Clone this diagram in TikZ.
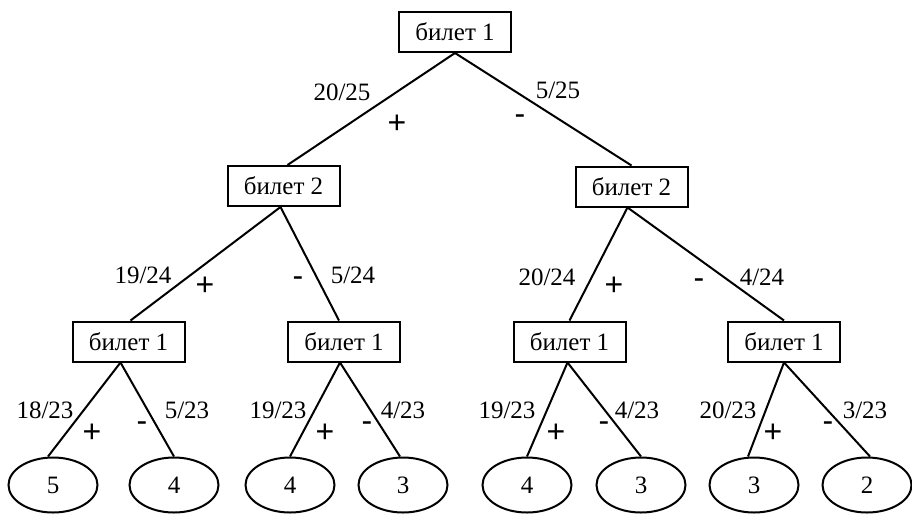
\documentclass[tikz,border=0pt]{standalone}
\usepackage{fontspec}
\setmainfont{Liberation Serif}
\newfontfamily\signfont{Liberation Sans}
\usetikzlibrary{shapes.geometric}
\begin{document}
\begin{tikzpicture}[x=1pt,y=-1pt,
  every node/.style={font=\fontsize{25}{28}\selectfont},
  ticket/.style={draw,line width=2pt,minimum width=112pt,minimum height=40pt,inner sep=0pt},
  leaf/.style={draw,ellipse,line width=2pt,minimum width=89pt,minimum height=55pt,inner sep=0pt},
  edge/.style={line width=2pt},
  prob/.style={inner sep=0pt},
  sign/.style={inner sep=0pt,font=\signfont\fontsize{32}{34}\selectfont}]
\useasboundingbox (0,0) rectangle (912,515);
% boxes
\node[ticket] (r) at (455,32) {билет 1};
\node[ticket] (a) at (283.5,186) {билет 2};
\node[ticket] (b) at (631.5,186.5) {билет 2};
\node[ticket] (a1) at (128.5,341.5) {билет 1};
\node[ticket] (a2) at (344,341.5) {билет 1};
\node[ticket] (b1) at (569.5,341.5) {билет 1};
\node[ticket] (b2) at (784,341.5) {билет 1};
% leaves
\node[leaf] (l1) at (53,485) {5};
\node[leaf] (l2) at (174,485) {4};
\node[leaf] (l3) at (290,485) {4};
\node[leaf] (l4) at (403,485) {3};
\node[leaf] (l5) at (527,485) {4};
\node[leaf] (l6) at (641,485) {3};
\node[leaf] (l7) at (754,485) {3};
\node[leaf] (l8) at (867,485) {2};
% edges
\draw[edge] (r.south) -- ([xshift=4pt]a.north);
\draw[edge] (r.south) -- (b.north);
\draw[edge] ([xshift=-3pt]a.south) -- ([xshift=2pt]a1.north);
\draw[edge] ([xshift=-3pt]a.south) -- ([xshift=-5pt]a2.north);
\draw[edge] ([xshift=-4pt]b.south) -- (b1.north);
\draw[edge] ([xshift=-4pt]b.south) -- (b2.north);
\draw[edge] ([xshift=-8pt]a1.south) -- ([xshift=-5pt]l1.north);
\draw[edge] ([xshift=-8pt]a1.south) -- (l2.north);
\draw[edge] ([xshift=-4pt]a2.south) -- (l3.north);
\draw[edge] ([xshift=-4pt]a2.south) -- ([xshift=-3pt]l4.north);
\draw[edge] ([xshift=-2pt]b1.south) -- (l5.north);
\draw[edge] ([xshift=-2pt]b1.south) -- (l6.north);
\draw[edge] (b2.south) -- ([xshift=-6pt]l7.north);
\draw[edge] (b2.south) -- ([xshift=3pt]l8.north);
% probabilities
\node[prob] (p1) at (342,92) {20/25};
\node[prob] (p2) at (558,90) {5/25};
\node[prob] (p3) at (143,275) {19/24};
\node[prob] (p4) at (353,275) {5/24};
\node[prob] (p5) at (547,277) {20/24};
\node[prob] (p6) at (762,277) {4/24};
\node[prob] (p7) at (45,410) {18/23};
\node[prob] (p8) at (187,410) {5/23};
\node[prob] (p9) at (278,410) {19/23};
\node[prob] (p10) at (403,410) {4/23};
\node[prob] (p11) at (507,410) {19/23};
\node[prob] (p12) at (637,410) {4/23};
\node[prob] (p13) at (728,410) {20/23};
\node[prob] (p14) at (865,410) {3/23};
% signs
\node[sign] (s1) at (397,124) {+};
\node[sign] (s2) at (520,120) {-};
\node[sign] (s3) at (205,286) {+};
\node[sign] (s4) at (298,282) {-};
\node[sign] (s5) at (614,286) {+};
\node[sign] (s6) at (699,284) {-};
\node[sign] (s7) at (92,433) {+};
\node[sign] (s8) at (142,427) {-};
\node[sign] (s9) at (325,433) {+};
\node[sign] (s10) at (367,427) {-};
\node[sign] (s11) at (556,433) {+};
\node[sign] (s12) at (604,427) {-};
\node[sign] (s13) at (773,433) {+};
\node[sign] (s14) at (828,427) {-};
\end{tikzpicture}
\end{document}
